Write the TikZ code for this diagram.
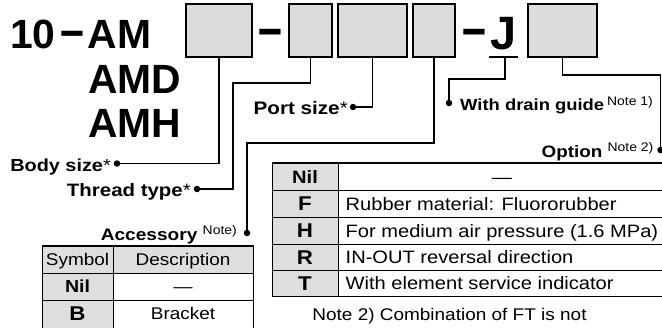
\documentclass[tikz,border=0pt]{standalone}
\usepackage{fontspec}
\setmainfont{Liberation Sans}
\newfontfamily\wfont[FakeStretch=1.14, BoldFeatures={FakeStretch=1.14}]{Liberation Sans}
\newfontfamily\tfont[FakeStretch=1.12, BoldFeatures={FakeStretch=1.12}]{Liberation Sans}
\definecolor{boxgray}{HTML}{DCDCDC}
\definecolor{cellgray}{HTML}{DEDEDE}
\newcommand\notesup[1]{\raisebox{5.5bp}{\tfont\fontsize{12.5}{12.5}\selectfont\mdseries #1}}
\begin{document}
\begin{tikzpicture}[x=1bp,y=-1bp,
  ttl/.style={font=\fontsize{41}{41}\selectfont\bfseries, inner sep=0},
  codebox/.style={draw, line width=2bp, fill=boxgray, minimum height=53bp, inner sep=0},
  conn/.style={line width=1.7bp},
  dotnode/.style={circle, fill, inner sep=0, minimum size=6.5bp},
  lbl/.style={font=\wfont\fontsize{#1}{#1}\selectfont\bfseries, inner sep=0},
  lbl/.default=16.5,
  tcell/.style={font=\tfont\fontsize{18}{18}\selectfont, inner sep=0},
  tsym/.style={font=\tfont\fontsize{18}{18}\selectfont\bfseries, inner sep=0},
  tbig/.style={font=\tfont\fontsize{20}{20}\selectfont\bfseries, inner sep=0},
  scell/.style={font=\tfont\fontsize{17}{17}\selectfont, inner sep=0},
  ssym/.style={font=\tfont\fontsize{17.5}{17.5}\selectfont\bfseries, inner sep=0},
  thinrule/.style={line width=0.9bp},
  thickrule/.style={line width=2bp}
]
\useasboundingbox (0,0) rectangle (662,327);

% title
\node[ttl, anchor=base west] (t1) at (10,48) {10\kern4.5bp\raisebox{0.5bp}{\scalebox{1.05}[1.25]{–}}\kern4bp AM};
\node[ttl, anchor=base west] (t2) at (88,93) {AMD};
\node[ttl, anchor=base west] (t3) at (88,137) {AMH};

% code boxes
\node[codebox, minimum width=66bp] (b1) at (219,30.5) {};
\node[codebox, minimum width=43bp] (b2) at (310.5,30.5) {};
\node[codebox, minimum width=69bp] (b3) at (372.5,30.5) {};
\node[codebox, minimum width=42bp] (b4) at (434,30.5) {};
\node[codebox, minimum width=69bp] (b5) at (562.5,30.5) {};
\node[ttl, anchor=base] (m1) at (270.5,47.7) {\scalebox{1.05}[1.4]{–}};
\node[ttl, anchor=base] (m2) at (474,47.7) {\scalebox{1.05}[1.4]{–}};
\node[font=\fontsize{47}{47}\selectfont\bfseries, inner sep=0, anchor=base] (J) at (504,49) {J};
\coordinate (ul) at (489,57);
\coordinate (ur) at (518,57);
\coordinate (ju) at (505,57);
\draw[line width=2bp] (ul) -- (ur);

% dots
\node[dotnode] (d1) at (117,163.5) {};
\node[dotnode] (d2) at (197,189) {};
\node[dotnode] (d3) at (353,107) {};
\node[dotnode] (d4) at (247,233) {};
\node[dotnode] (dj) at (449,103) {};
\node[dotnode] (d5) at (660.5,150) {};
\coordinate (k2) at (233,83);
\coordinate (k4) at (247,143);
\coordinate (kj) at (449,79);
\coordinate (k5) at (660.5,75);

% connectors
\draw[conn] (b1.south) |- (d1.center);
\draw[conn] (b2.south) |- (k2) |- (d2.center);
\draw[conn] (b3.south) |- (d3.center);
\draw[conn] (b4.south) |- (k4) -- (d4.center);
\draw[conn] (ju) |- (kj) -- (dj.center);
\draw[conn] (b5.south) |- (k5) -- (d5.center);

% labels
\node[lbl=17.5, anchor=base east, xshift=-6bp, yshift=-7.5bp] (l1) at (d1) {Body size{\mdseries *}};
\node[lbl=18, anchor=base east, xshift=-6bp, yshift=-7.5bp] (l2) at (d2) {Thread type{\mdseries *}};
\node[lbl=18.2, anchor=base east, xshift=-5bp, yshift=-7.5bp] (l3) at (d3) {Port size{\mdseries *}};
\node[lbl=16.8, anchor=base east, xshift=-10bp, yshift=-7bp] (l4) at (d4) {Accessory \notesup{Note)}};
\node[lbl=16.2, anchor=base west, xshift=11bp, yshift=-7.5bp] (lj) at (dj) {With drain guide\kern3bp\notesup{Note 1)}};
\node[lbl=16.6, anchor=base east, xshift=-7bp, yshift=-7bp] (l5) at (d5) {Option \notesup{Note 2)}};

% option table
\fill[cellgray] (272,163) rectangle (338,296);
\foreach \yy in {190,217,244,270,296} \draw[thinrule] (272,\yy) -- (668,\yy);
\draw[thinrule] (272,163) -- (272,296) (338,163) -- (338,296);
\draw[thickrule] (271.5,163) -- (668,163);
\node[tsym, anchor=base] (o1s) at (305,183) {Nil};
\node[tcell, anchor=base] (o1d) at (502,183) {—};
\node[tbig, anchor=base] (o2s) at (305,210.5) {F};
\node[tcell, anchor=base west] (o2d) at (345.5,210) {Rubber material: Fluororubber};
\node[tbig, anchor=base] (o3s) at (305,237.5) {H};
\node[tcell, anchor=base west] (o3d) at (345.5,237) {For medium air pressure (1.6 MPa)};
\node[tbig, anchor=base] (o4s) at (305,264) {R};
\node[tcell, anchor=base west] (o4d) at (345.5,263.5) {IN-OUT reversal direction};
\node[tbig, anchor=base] (o5s) at (305,290) {T};
\node[tcell, anchor=base west] (o5d) at (345.5,289.5) {With element service indicator};
\node[scell, anchor=base] (note2) at (449.5,320) {Note 2) Combination of FT is not};

% accessory table
\fill[cellgray] (42,246) rectangle (253,273);
\fill[cellgray] (42,273) rectangle (113,330);
\draw[thinrule] (42,273) -- (253,273) (42,300) -- (253,300);
\draw[thinrule] (42,246) -- (42,330) (113,246) -- (113,330) (253,246) -- (253,330);
\draw[thickrule] (41.5,246) -- (253.5,246);
\node[scell, anchor=base] (a0s) at (77.5,265.8) {Symbol};
\node[scell, anchor=base] (a0d) at (183,265.8) {Description};
\node[ssym, anchor=base] (a1s) at (77.5,292.8) {Nil};
\node[scell, anchor=base] (a1d) at (183,292.8) {—};
\node[tbig, anchor=base] (a2s) at (77.5,320.5) {B};
\node[scell, anchor=base] (a2d) at (183,319.8) {Bracket};
\end{tikzpicture}
\end{document}
